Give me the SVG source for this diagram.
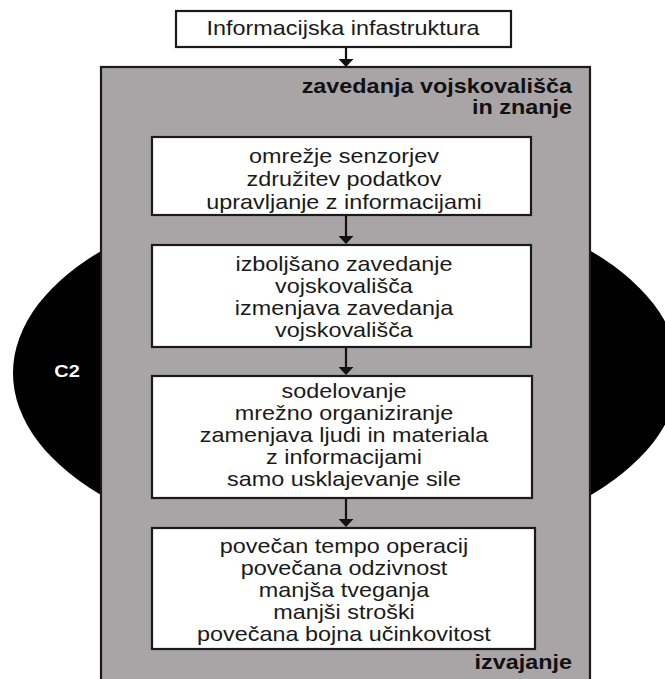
<svg xmlns="http://www.w3.org/2000/svg" width="665" height="679" viewBox="0 0 665 679">
<style>
.t{font-family:"Liberation Sans",Arial,sans-serif;font-size:20px;fill:#1a1a1a;text-anchor:middle}
.b{font-family:"Liberation Sans",Arial,sans-serif;font-size:20px;font-weight:bold;fill:#111;text-anchor:end}
.box{fill:#fff;stroke:#1a1a1a;stroke-width:2.2}
.arr{stroke:#111;stroke-width:2.2;fill:none;marker-end:url(#ah)}
</style>
<defs>
<marker id="ah" markerUnits="userSpaceOnUse" viewBox="0 0 8 15" refX="0" refY="7.5" markerWidth="8" markerHeight="15" orient="auto">
<path d="M0,0 L8,7.5 L0,15 z" fill="#111"/>
</marker>
</defs>
<rect width="665" height="679" fill="#fff"/>
<g id="c2">
<ellipse cx="346" cy="373" rx="333" ry="180" fill="#000"/>
<g transform="matrix(1.17 0 0 1 -11.39 0)">
<text x="67" y="377" style="font-family:'Liberation Sans',Arial,sans-serif;font-size:17px;font-weight:bold;fill:#fff;text-anchor:middle">C2</text>
</g>
</g>
<g id="container">
<rect x="101" y="67" width="489" height="630" fill="#a9a5a6" stroke="#1a1a1a" stroke-width="2.2"/>
<g transform="matrix(1.17 0 0 1 -97.24 0)">
<text class="b" x="572" y="93">zavedanja vojskovališča</text>
<text class="b" x="572" y="114">in znanje</text>
<text class="b" x="572" y="669">izvajanje</text>
</g>
</g>
<g id="infra">
<rect class="box" x="176" y="11" width="335" height="36"/>
<g transform="matrix(1.17 0 0 1 -58.31 0)">
<text class="t" x="343" y="35">Informacijska infastruktura</text>
</g>
</g>
<g id="box1">
<rect class="box" x="152" y="137" width="379" height="78"/>
<g transform="matrix(1.17 0 0 1 -58.48 0)">
<text class="t" x="344" y="163">omrežje senzorjev</text>
<text class="t" x="344" y="186">združitev podatkov</text>
<text class="t" x="344" y="209">upravljanje z informacijami</text>
</g>
</g>
<g id="box2">
<rect class="box" x="152" y="245" width="379" height="102"/>
<g transform="matrix(1.17 0 0 1 -58.48 0)">
<text class="t" x="344" y="271">izboljšano zavedanje</text>
<text class="t" x="344" y="293">vojskovališča</text>
<text class="t" x="344" y="315">izmenjava zavedanja</text>
<text class="t" x="344" y="337">vojskovališča</text>
</g>
</g>
<g id="box3">
<rect class="box" x="152" y="376" width="380" height="122"/>
<g transform="matrix(1.17 0 0 1 -58.48 0)">
<text class="t" x="344" y="398">sodelovanje</text>
<text class="t" x="344" y="420">mrežno organiziranje</text>
<text class="t" x="344" y="442">zamenjava ljudi in materiala</text>
<text class="t" x="344" y="464">z informacijami</text>
<text class="t" x="344" y="486">samo usklajevanje sile</text>
</g>
</g>
<g id="box4">
<rect class="box" x="152" y="528" width="383" height="121"/>
<g transform="matrix(1.17 0 0 1 -58.48 0)">
<text class="t" x="344" y="553">povečan tempo operacij</text>
<text class="t" x="344" y="575">povečana odzivnost</text>
<text class="t" x="344" y="597">manjša tveganja</text>
<text class="t" x="344" y="619">manjši stroški</text>
<text class="t" x="344" y="641">povečana bojna učinkovitost</text>
</g>
</g>
<g id="connectors">
<line class="arr" x1="346" y1="48" x2="346" y2="59"/>
<line class="arr" x1="346" y1="216" x2="346" y2="236"/>
<line class="arr" x1="346" y1="348" x2="346" y2="367"/>
<line class="arr" x1="346" y1="499" x2="346" y2="519"/>
</g>
</svg>
